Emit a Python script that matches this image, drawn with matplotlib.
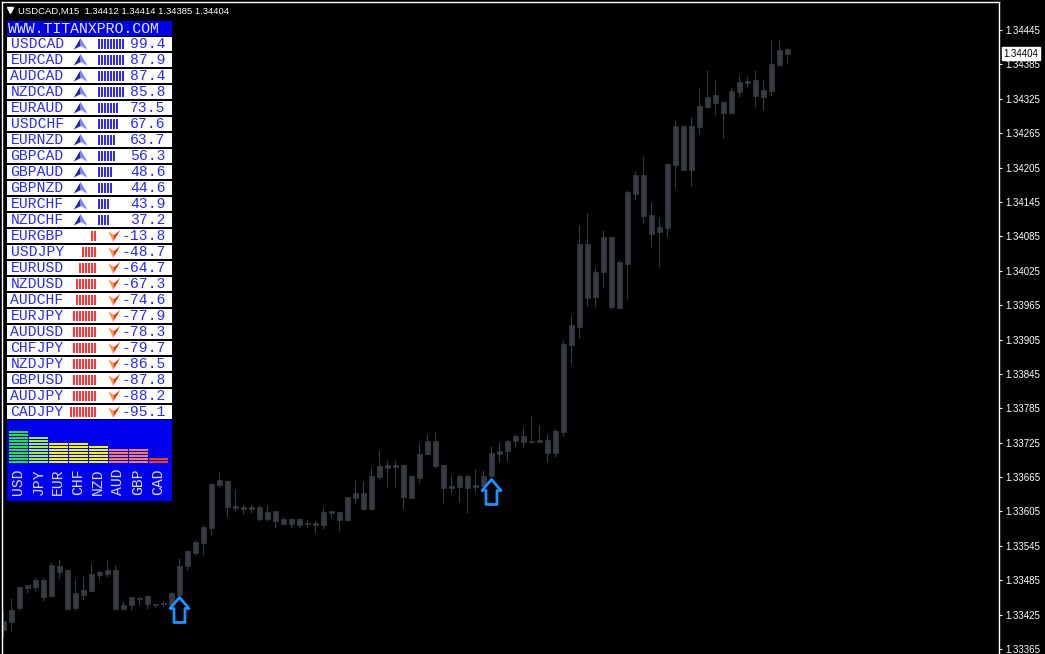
import matplotlib
matplotlib.use("Agg")
import matplotlib.pyplot as plt
import numpy as np
from matplotlib.patches import Rectangle, Polygon
from matplotlib.path import Path
from matplotlib.transforms import blended_transform_factory

symbol = "USDCAD,M15"

# M15 candles, oldest first
opens = [1.33398, 1.33413, 1.33436, 1.33472, 1.33474, 1.33485, 1.33458, 1.33510, 1.33503, 1.33437,
         1.33459, 1.33467, 1.33494, 1.33496, 1.33503, 1.33435, 1.33441, 1.33454, 1.33458, 1.33443,
         1.33443, 1.33441, 1.33459, 1.33509, 1.33532, 1.33550, 1.33576, 1.33651, 1.33658, 1.33611,
         1.33613, 1.33610, 1.33612, 1.33592, 1.33605, 1.33592, 1.33583, 1.33592, 1.33583, 1.33585,
         1.33581, 1.33603, 1.33604, 1.33590, 1.33629, 1.33637, 1.33610, 1.33665, 1.33686, 1.33683,
         1.33686, 1.33629, 1.33664, 1.33705, 1.33728, 1.33686, 1.33646, 1.33648, 1.33667, 1.33648,
         1.33649, 1.33666, 1.33705, 1.33710, 1.33728, 1.33737, 1.33726, 1.33730, 1.33730, 1.33707,
         1.33744, 1.33895, 1.33927, 1.34072, 1.33980, 1.34022, 1.34084, 1.33960, 1.34037, 1.34159,
         1.34192, 1.34122, 1.34092, 1.34100, 1.34209, 1.34278, 1.34201, 1.34276, 1.34311, 1.34332,
         1.34319, 1.34301, 1.34337, 1.34352, 1.34358, 1.34329, 1.34339, 1.34384, 1.34412]
highs = [1.33430, 1.33454, 1.33475, 1.33477, 1.33491, 1.33490, 1.33516, 1.33522, 1.33504, 1.33487,
         1.33494, 1.33515, 1.33502, 1.33522, 1.33512, 1.33449, 1.33456, 1.33458, 1.33459, 1.33444,
         1.33448, 1.33465, 1.33523, 1.33537, 1.33555, 1.33581, 1.33655, 1.33673, 1.33660, 1.33644,
         1.33616, 1.33616, 1.33616, 1.33616, 1.33606, 1.33596, 1.33594, 1.33593, 1.33590, 1.33589,
         1.33612, 1.33606, 1.33605, 1.33631, 1.33661, 1.33658, 1.33683, 1.33712, 1.33695, 1.33695,
         1.33687, 1.33667, 1.33724, 1.33741, 1.33745, 1.33687, 1.33669, 1.33670, 1.33670, 1.33679,
         1.33677, 1.33719, 1.33727, 1.33731, 1.33741, 1.33753, 1.33773, 1.33756, 1.33741, 1.33750,
         1.33905, 1.33948, 1.34105, 1.34125, 1.34032, 1.34096, 1.34086, 1.34044, 1.34166, 1.34199,
         1.34225, 1.34145, 1.34118, 1.34213, 1.34288, 1.34279, 1.34293, 1.34343, 1.34376, 1.34359,
         1.34320, 1.34345, 1.34366, 1.34365, 1.34375, 1.34359, 1.34430, 1.34429, 1.34414]
lows = [1.33386, 1.33397, 1.33433, 1.33463, 1.33467, 1.33448, 1.33455, 1.33487, 1.33434, 1.33433,
        1.33451, 1.33466, 1.33485, 1.33490, 1.33434, 1.33434, 1.33433, 1.33441, 1.33435, 1.33437,
        1.33439, 1.33439, 1.33458, 1.33503, 1.33529, 1.33529, 1.33564, 1.33647, 1.33596, 1.33606,
        1.33600, 1.33602, 1.33589, 1.33589, 1.33576, 1.33582, 1.33577, 1.33577, 1.33577, 1.33567,
        1.33574, 1.33593, 1.33571, 1.33589, 1.33619, 1.33609, 1.33609, 1.33661, 1.33648, 1.33648,
        1.33610, 1.33628, 1.33655, 1.33704, 1.33680, 1.33619, 1.33638, 1.33622, 1.33603, 1.33639,
        1.33648, 1.33663, 1.33692, 1.33693, 1.33718, 1.33718, 1.33725, 1.33724, 1.33692, 1.33700,
        1.33737, 1.33862, 1.33907, 1.33963, 1.33962, 1.33995, 1.33958, 1.33958, 1.33976, 1.34148,
        1.34109, 1.34067, 1.34031, 1.34084, 1.34170, 1.34200, 1.34173, 1.34264, 1.34309, 1.34297,
        1.34257, 1.34300, 1.34329, 1.34345, 1.34311, 1.34305, 1.34330, 1.34382, 1.34385]
closes = [1.33414, 1.33433, 1.33474, 1.33476, 1.33485, 1.33456, 1.33512, 1.33500, 1.33435, 1.33462,
          1.33468, 1.33496, 1.33500, 1.33503, 1.33435, 1.33442, 1.33455, 1.33452, 1.33443, 1.33441,
          1.33445, 1.33463, 1.33510, 1.33536, 1.33552, 1.33578, 1.33653, 1.33660, 1.33612, 1.33615,
          1.33610, 1.33613, 1.33591, 1.33604, 1.33589, 1.33583, 1.33592, 1.33581, 1.33584, 1.33581,
          1.33604, 1.33605, 1.33590, 1.33630, 1.33637, 1.33610, 1.33667, 1.33684, 1.33681, 1.33686,
          1.33631, 1.33666, 1.33705, 1.33728, 1.33684, 1.33646, 1.33649, 1.33667, 1.33646, 1.33651,
          1.33667, 1.33707, 1.33710, 1.33728, 1.33737, 1.33727, 1.33728, 1.33726, 1.33707, 1.33745,
          1.33897, 1.33930, 1.34072, 1.33978, 1.34023, 1.34084, 1.33962, 1.34040, 1.34163, 1.34192,
          1.34121, 1.34089, 1.34101, 1.34211, 1.34278, 1.34201, 1.34278, 1.34312, 1.34328, 1.34318,
          1.34301, 1.34339, 1.34354, 1.34356, 1.34330, 1.34340, 1.34386, 1.34410, 1.34404]

signal_bars = [22, 61]

price_ticks = [1.33365, 1.33425, 1.33485, 1.33545, 1.33605, 1.33665, 1.33725, 1.33785, 1.33845,
               1.33905, 1.33965, 1.34025, 1.34085, 1.34145, 1.34205, 1.34265, 1.34325, 1.34385,
               1.34445]

# strength table
pairs = ["USDCAD", "EURCAD", "AUDCAD", "NZDCAD", "EURAUD", "USDCHF", "EURNZD", "GBPCAD",
         "GBPAUD", "GBPNZD", "EURCHF", "NZDCHF", "EURGBP", "USDJPY", "EURUSD", "NZDUSD",
         "AUDCHF", "EURJPY", "AUDUSD", "CHFJPY", "NZDJPY", "GBPUSD", "AUDJPY", "CADJPY"]
pair_strength = [99.4, 87.9, 87.4, 85.8, 73.5, 67.6, 63.7, 56.3, 48.6, 44.6, 43.9, 37.2,
                 -13.8, -48.7, -64.7, -67.3, -74.6, -77.9, -78.3, -79.7, -86.5, -87.8, -88.2, -95.1]
pair_bars = [9, 9, 9, 9, 7, 7, 6, 6, 5, 5, 4, 4, 2, 5, 6, 7, 7, 8, 8, 8, 8, 8, 8, 9]

currencies = ["USD", "JPY", "EUR", "CHF", "NZD", "AUD", "GBP", "CAD"]
currency_level = [11, 9, 7, 7, 6, 5, 5, 2]
currency_colors = ["#2fdc2f", "#a8ea48", "#f4f41c", "#f4f41c", "#f4f41c", "#f47c62", "#f47c62", "#f43a28"]

W, H = 1045, 654
fig = plt.figure(figsize=(W / 100, H / 100), dpi=100, facecolor="black")
ax = fig.add_axes([2 / W, 0, 997 / W, 652 / H])
ax.set_facecolor("black")

o = np.array(opens)
h = np.array(highs)
l = np.array(lows)
c = np.array(closes)
idx = np.arange(len(o))
candle = "#363a41"

ax.vlines(idx, l, h, color=candle, lw=0.8)
ax.bar(idx, np.abs(c - o), bottom=np.minimum(o, c), width=0.6,
       color=candle, edgecolor=candle, linewidth=0.5)

# hollow up arrows under signal bars
arrow = Path([(0, -1), (9.5, -12), (5.5, -12), (5.5, -26), (-5.5, -26), (-5.5, -12), (-9.5, -12), (0, -1), (0, -1)],
             [Path.MOVETO] + [Path.LINETO] * 7 + [Path.CLOSEPOLY])
ax.plot(signal_bars, l[signal_bars], ls="none", marker=arrow, ms=37.4,
        mfc="none", mec="#1e90ff", mew=2.0)

ax.set_xlim((2 - 3.3) / 8, (999 - 3.3) / 8)
ax.set_ylim(1.333563, 1.344939)

for s in ["left", "top", "right"]:
    ax.spines[s].set_color("white")
    ax.spines[s].set_linewidth(1)
ax.spines["bottom"].set_visible(False)
ax.set_xticks([])
ax.yaxis.tick_right()
ax.set_yticks(price_ticks)
ax.set_yticklabels([f"{t:.5f}" for t in price_ticks])
ax.tick_params(axis="y", colors="white", length=2.5, width=0.8, pad=1.8,
               labelsize=7.0, labelfontfamily="Liberation Sans")

# current price label
bt = blended_transform_factory(ax.transAxes, ax.transData)
ax.text(1.0045, c[-1], f"{c[-1]:.5f}", transform=bt, ha="left", va="center",
        fontsize=7.0, family="Liberation Sans", color="black", clip_on=False,
        bbox=dict(boxstyle="square,pad=0.18", fc="white", ec="white"))

# overlay in pixel coordinates for the indicator panel
ov = fig.add_axes([0, 0, 1, 1], zorder=5)
ov.set_xlim(0, W)
ov.set_ylim(H, 0)
ov.axis("off")

ov.plot([9.5], [10], marker="v", ms=4.5, color="white")
ov.text(18, 11, f"{symbol}  {o[-1]:.5f} {h[-1]:.5f} {l[-1]:.5f} {c[-1]:.5f}",
        color="white", fontsize=6.8, family="Liberation Sans", va="center", ha="left")

mono = "Liberation Mono"
blue_txt = "#2b2bf0"
px0, px1 = 6.7, 171.7

ov.add_patch(Rectangle((px0, 20.7), px1 - px0, 15, fc="#0000e0", ec="none"))
ov.text(8.4, 28.6, "WWW.TITANXPRO.COM", color="#e6e6ff", fontsize=10.7, family=mono,
        ha="left", va="center")

for i, (pair, val, n) in enumerate(zip(pairs, pair_strength, pair_bars)):
    top = 36.7 + 16 * i
    ov.add_patch(Rectangle((px0, top), px1 - px0, 14, fc="white", ec="none"))
    ov.text(10.5, top + 7.6, pair, color=blue_txt, fontsize=10.6, family=mono, ha="left", va="center")
    ov.text(165.5, top + 7.6, f"{val:.1f}", color=blue_txt, fontsize=10.6, family=mono,
            ha="right", va="center")
    if val > 0:
        for k in range(n):
            ov.add_patch(Rectangle((97.5 + 3 * k, top + 2.6), 2, 10, fc="#2a2aff", ec="none"))
        cx, t, b = 80.6, top + 1.4, top + 12.8
        ov.add_patch(Polygon([(cx, t), (cx - 6.8, b), (cx, b - 3.5)], closed=True, fc="#1e1eb4", ec="none"))
        ov.add_patch(Polygon([(cx, t), (cx, b - 3.5), (cx + 6.8, b)], closed=True, fc="#8484ff", ec="none"))
    else:
        for k in range(n):
            ov.add_patch(Rectangle((94 - 3 * k, top + 2.6), 2, 10, fc="#ff3434", ec="none"))
        cx, t, b = 114.2, top + 1.3, top + 13
        ov.add_patch(Polygon([(cx - 6, t + 1.5), (cx, t + 5), (cx - 1, b)], closed=True, fc="#ff9a55", ec="none"))
        ov.add_patch(Polygon([(cx, t + 5), (cx + 6, t), (cx - 1, b)], closed=True, fc="#ff2400", ec="none"))

# currency strength block
ov.add_patch(Rectangle((px0, 420), px1 - px0, 81, fc="#0000f0", ec="none"))
for j, (cur, lev, col) in enumerate(zip(currencies, currency_level, currency_colors)):
    x0 = 9 + 20 * j
    for k in range(lev):
        ov.add_patch(Rectangle((x0, 460.7 - 3 * k), 18.7, 2, fc=col, ec="none"))
    ov.text(x0 + 9.35, 481.7, cur, rotation=90, color="#dcdcff", fontsize=10.6, family=mono,
            ha="center", va="center")

fig.savefig("out.png", dpi=100, facecolor="black")
